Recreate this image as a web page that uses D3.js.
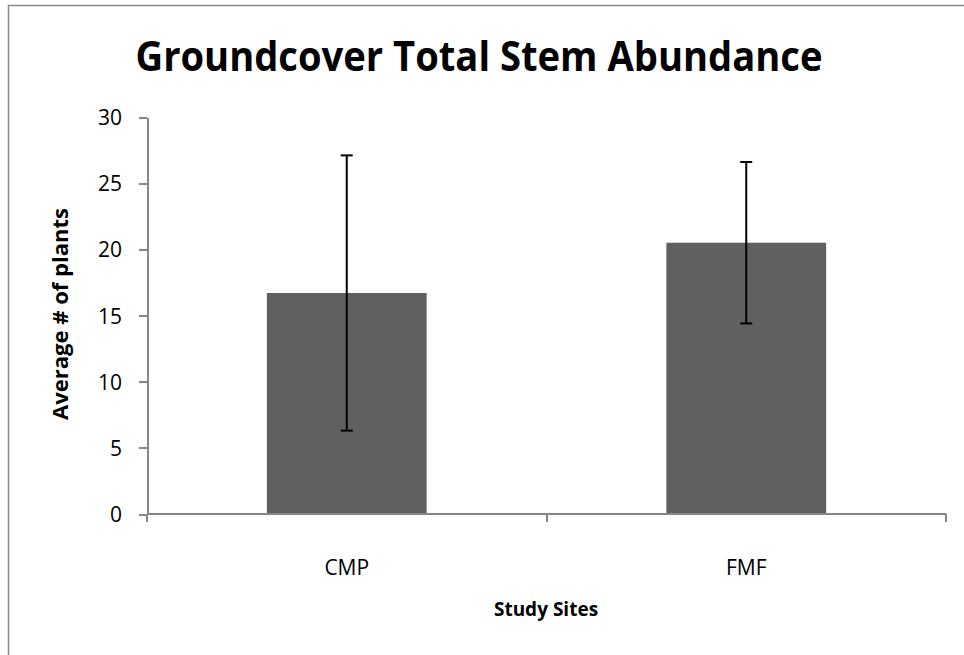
<!DOCTYPE html>
<html>
<head>
<meta charset="utf-8">
<title>Groundcover Total Stem Abundance</title>
<script src="https://cdn.jsdelivr.net/npm/d3@7"></script>
<style>
    body { margin: 0; background: #fff; }
    svg { display: block; font-family: "Open Sans", "DejaVu Sans", sans-serif; }
    .axis path, .axis line { stroke: #868686; stroke-width: 2px; shape-rendering: crispEdges; }
    .axis text { fill: #000; font-size: 21px; font-family: "Open Sans", sans-serif; }
</style>
</head>
<body>
<svg width="964" height="655"></svg>
<script>
    // data
    var sites = ["CMP", "FMF"];
    var means = [16.7, 20.5];
    var errLow = [6.3, 14.4];
    var errHigh = [27.1, 26.6];
    var yTicks = [0, 5, 10, 15, 20, 25, 30];

    var svg = d3.select("svg");

    // chart frame (cut off by the screenshot at right/bottom)
    svg.append("rect")
        .attr("x", 8.5).attr("y", 5.5)
        .attr("width", 980).attr("height", 700)
        .attr("fill", "none")
        .attr("stroke", "#8a8a8a")
        .attr("stroke-width", 1.5);

    var x = d3.scaleBand()
        .domain(sites)
        .range([147, 946])
        .paddingInner(0.6)
        .paddingOuter(0.3);

    var y = d3.scaleLinear()
        .domain([0, 30])
        .range([514, 117]);

    // y axis
    var yAxis = svg.append("g")
        .attr("class", "axis")
        .attr("transform", "translate(147,0)")
        .call(d3.axisLeft(y).tickValues(yTicks).tickSize(8).tickSizeOuter(0).tickPadding(17));
    yAxis.attr("font-family", null);
    yAxis.selectAll("text").attr("dy", "0.36em");

    // bars
    svg.selectAll(".bar")
        .data(sites)
        .enter()
        .append("rect")
        .attr("class", "bar")
        .attr("x", function (d) { return x(d); })
        .attr("width", x.bandwidth())
        .attr("y", function (d, i) { return y(means[i]); })
        .attr("height", function (d, i) { return y(0) - y(means[i]); })
        .attr("fill", "#606060");

    // x axis line + category boundary ticks
    var xg = svg.append("g").attr("class", "axis");
    xg.append("line")
        .attr("x1", x.range()[0]).attr("x2", x.range()[1])
        .attr("y1", y(0)).attr("y2", y(0));
    var step = x.step();
    xg.selectAll(".bound")
        .data(d3.range(sites.length + 1))
        .enter()
        .append("line")
        .attr("x1", function (i) { return x.range()[0] + i * step; })
        .attr("x2", function (i) { return x.range()[0] + i * step; })
        .attr("y1", y(0)).attr("y2", y(0) + 8);
    xg.selectAll(".cat")
        .data(sites)
        .enter()
        .append("text")
        .attr("x", function (d) { return x(d) + x.bandwidth() / 2; })
        .attr("y", 575)
        .attr("text-anchor", "middle")
        .text(function (d) { return d; });

    // error bars
    var eb = svg.selectAll(".err")
        .data(sites)
        .enter()
        .append("g")
        .attr("class", "err")
        .attr("stroke", "#000")
        .attr("stroke-width", 2);
    eb.append("line")
        .attr("x1", function (d) { return x(d) + x.bandwidth() / 2; })
        .attr("x2", function (d) { return x(d) + x.bandwidth() / 2; })
        .attr("y1", function (d, i) { return y(errLow[i]); })
        .attr("y2", function (d, i) { return y(errHigh[i]); });
    eb.append("line")
        .attr("x1", function (d) { return x(d) + x.bandwidth() / 2 - 6; })
        .attr("x2", function (d) { return x(d) + x.bandwidth() / 2 + 6; })
        .attr("y1", function (d, i) { return y(errLow[i]); })
        .attr("y2", function (d, i) { return y(errLow[i]); });
    eb.append("line")
        .attr("x1", function (d) { return x(d) + x.bandwidth() / 2 - 6; })
        .attr("x2", function (d) { return x(d) + x.bandwidth() / 2 + 6; })
        .attr("y1", function (d, i) { return y(errHigh[i]); })
        .attr("y2", function (d, i) { return y(errHigh[i]); });

    // title
    svg.append("text")
        .attr("x", 479).attr("y", 71)
        .attr("text-anchor", "middle")
        .attr("font-size", 41)
        .attr("font-weight", "bold")
        .attr("textLength", 687)
        .attr("lengthAdjust", "spacingAndGlyphs")
        .text("Groundcover Total Stem Abundance");

    // axis titles
    svg.append("text")
        .attr("transform", "translate(68,314) rotate(-90)")
        .attr("text-anchor", "middle")
        .attr("font-size", 21)
        .attr("font-weight", "bold")
        .attr("textLength", 212)
        .attr("lengthAdjust", "spacingAndGlyphs")
        .text("Average # of plants");

    svg.append("text")
        .attr("x", 546).attr("y", 616)
        .attr("text-anchor", "middle")
        .attr("font-size", 19)
        .attr("font-weight", "bold")
        .text("Study Sites");
</script>
</body>
</html>
